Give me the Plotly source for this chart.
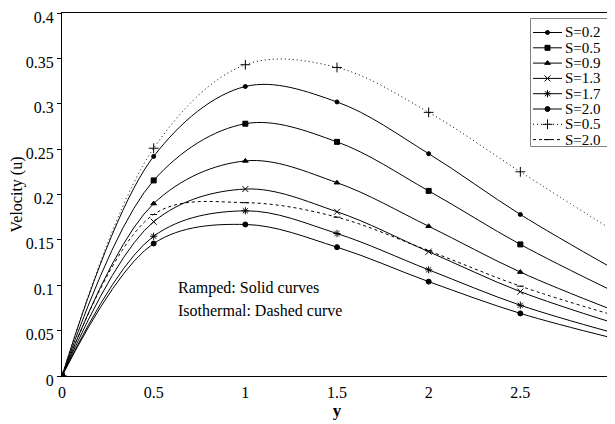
import plotly.graph_objects as go

y_pos = [0, 0.5, 1, 1.5, 2, 2.5, 3]

ramped_labels = ["S=0.2", "S=0.5", "S=0.9", "S=1.3", "S=1.7", "S=2.0"]
u_s02 = [0, 0.242, 0.319, 0.302, 0.245, 0.178, 0.119]
u_s05 = [0, 0.2155, 0.278, 0.258, 0.204, 0.145, 0.094]
u_s09 = [0, 0.190, 0.237, 0.213, 0.165, 0.1145, 0.073]
u_s13 = [0, 0.170, 0.206, 0.181, 0.137, 0.093, 0.059]
u_s17 = [0, 0.154, 0.182, 0.157, 0.117, 0.078, 0.048]
u_s20 = [0, 0.146, 0.167, 0.142, 0.104, 0.069, 0.042]

iso_labels = ["S=0.5", "S=2.0"]
u_iso05 = [0, 0.251, 0.343, 0.340, 0.2905, 0.225, 0.161]
u_iso20 = [0, 0.178, 0.191, 0.175, 0.138, 0.099, 0.0675]

x_ticks = [0, 0.5, 1, 1.5, 2, 2.5, 3]
x_ticktext = ["0", "0.5", "1", "1.5", "2", "2.5", "3"]
y_ticks = [0, 0.05, 0.1, 0.15, 0.2, 0.25, 0.3, 0.35, 0.4]
y_ticktext = ["0", "0.05", "0.1", "0.15", "0.2", "0.25", "0.3", "0.35", "0.4"]

FONT = "Liberation Serif, Times New Roman, serif"

fig = go.Figure()

# style table: (label, values, marker symbol, marker size, dash)
series = [
    (ramped_labels[0], u_s02, "circle", 4, "solid"),
    (ramped_labels[1], u_s05, "square", 5, "solid"),
    (ramped_labels[2], u_s09, "triangle-up", 5, "solid"),
    (ramped_labels[3], u_s13, "x-thin", 6, "solid"),
    (ramped_labels[4], u_s17, "asterisk", 6, "solid"),
    (ramped_labels[5], u_s20, "circle", 5, "solid"),
    (iso_labels[0], u_iso05, "cross-thin", 7, "1px,3px"),
    (iso_labels[1], u_iso20, "line-ew", 5, "3px,3px"),
]

for lab, vals, sym, sz, dash in series:
    fig.add_trace(go.Scatter(
        x=y_pos, y=vals, name=lab, mode="lines+markers", showlegend=False,
        line=dict(color="black", width=1, shape="spline", smoothing=1, dash=dash),
        marker=dict(symbol=sym, size=sz, color="black",
                    line=dict(color="black", width=1)),
    ))

# Legend key drawn on an auxiliary hidden axis (pixel-like units)
LEG_W, LEG_H = 78, 128
row0, rowgap = 14, 15.3
for i, (lab, vals, sym, sz, dash) in enumerate(series):
    yy = row0 + i * rowgap
    fig.add_trace(go.Scatter(
        x=[2, 16.5, 31], y=[yy, yy, yy], xaxis="x2", yaxis="y2",
        mode="lines", showlegend=False, hoverinfo="skip",
        line=dict(color="black", width=1, dash=dash),
    ))
    fig.add_trace(go.Scatter(
        x=[16.5], y=[yy], xaxis="x2", yaxis="y2",
        mode="markers", showlegend=False, hoverinfo="skip",
        marker=dict(symbol=sym, size=sz, color="black",
                    line=dict(color="black", width=1)),
    ))
    fig.add_annotation(x=33, y=yy, xref="x2", yref="y2", text=lab,
                       showarrow=False, xanchor="left", yanchor="middle",
                       borderpad=0,
                       font=dict(family=FONT, size=15, color="black"))

fig.add_shape(type="rect", xref="x2 domain", yref="y2 domain",
              x0=0, x1=1, y0=0, y1=1, line=dict(color="black", width=1),
              fillcolor="white", layer="below")

fig.add_annotation(x=0.62, y=0.0965, xref="x", yref="y", text="Ramped: Solid curves",
                   showarrow=False, xanchor="left", yanchor="middle",
                   font=dict(family=FONT, size=16, color="black"))
fig.add_annotation(x=0.62, y=0.0722, xref="x", yref="y", text="Isothermal: Dashed curve",
                   showarrow=False, xanchor="left", yanchor="middle",
                   font=dict(family=FONT, size=16, color="black"))

# the page body has an 8px margin: size and margins chosen so the plot area lands right
fig.update_layout(
    width=607, height=416,
    margin=dict(l=54, r=3, t=5, b=48),
    plot_bgcolor="white", paper_bgcolor="white",
    font=dict(family=FONT, size=16, color="black"),
    showlegend=False,
    xaxis=dict(range=[0, 3], tickvals=x_ticks, ticktext=x_ticktext,
               showgrid=False, zeroline=False, showline=True, linecolor="black",
               linewidth=1, mirror=True, ticks="", automargin=False,
               ticklabelstandoff=2, ticklabeloverflow="allow",
               tickfont=dict(family=FONT, size=16, color="black"),
               title=dict(text="<b>y</b>", standoff=0,
                          font=dict(family=FONT, size=17, color="black"))),
    yaxis=dict(range=[0, 0.4], tickvals=y_ticks, ticktext=y_ticktext,
               showgrid=False, zeroline=False, showline=True, linecolor="black",
               linewidth=1, mirror=True, ticks="outside", ticklen=4,
               tickcolor="black", automargin=False, ticklabeloverflow="allow",
               ticklabelshift=4,
               tickfont=dict(family=FONT, size=16, color="black"),
               title=dict(text="Velocity (u)", standoff=3,
                          font=dict(family=FONT, size=16, color="black"))),
    xaxis2=dict(domain=[(531 - 62) / 550, (609 - 62) / 550], range=[0, LEG_W],
                anchor="y2", visible=False, fixedrange=True),
    yaxis2=dict(domain=[(375.5 - 146) / 363, (375.5 - 18) / 363],
                range=[LEG_H, 0], anchor="x2", visible=False, fixedrange=True),
)

fig.write_html("out.html")
